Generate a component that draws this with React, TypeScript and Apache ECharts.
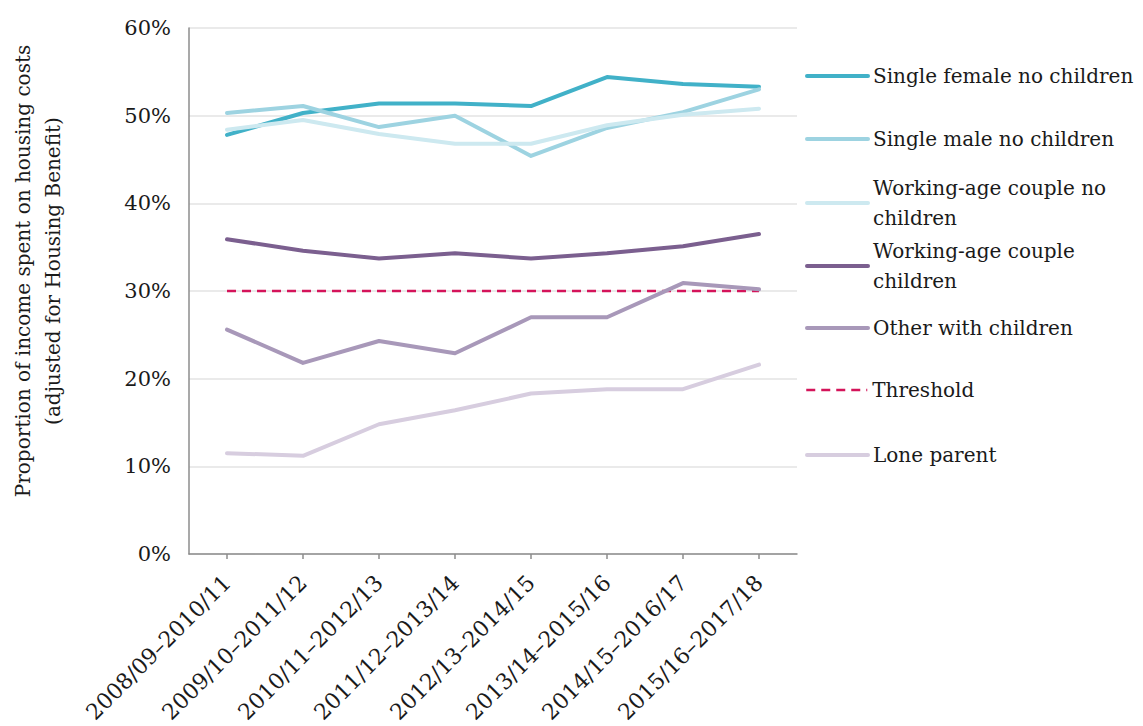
import React, { useEffect, useRef } from 'react';
import * as echarts from 'echarts';

const categories = [
  '2008/09–2010/11',
  '2009/10–2011/12',
  '2010/11–2012/13',
  '2011/12–2013/14',
  '2012/13–2014/15',
  '2013/14–2015/16',
  '2014/15–2016/17',
  '2015/16–2017/18',
];

const singleFemale = [47.8, 50.3, 51.4, 51.4, 51.1, 54.4, 53.6, 53.3];
const singleMale = [50.3, 51.1, 48.7, 50.0, 45.4, 48.6, 50.4, 53.0];
const coupleNoChildren = [48.4, 49.5, 47.9, 46.8, 46.8, 48.9, 50.1, 50.8];
const coupleChildren = [35.9, 34.6, 33.7, 34.3, 33.7, 34.3, 35.1, 36.5];
const otherWithChildren = [25.6, 21.8, 24.3, 22.9, 27.0, 27.0, 30.9, 30.2];
const threshold = [30, 30, 30, 30, 30, 30, 30, 30];
const loneParent = [11.5, 11.2, 14.8, 16.4, 18.3, 18.8, 18.8, 21.6];

const yMin = 0;
const yMax = 60;
const yInterval = 10;

const FONT = 'DejaVu Serif';
const TEXT = '#1a1a1a';

const seriesDefs = [
  { name: 'Single female no children', label: 'Single female no children', data: singleFemale, color: '#41b1c8', dashed: false, legendY: 76, twoLine: false },
  { name: 'Single male no children', label: 'Single male no children', data: singleMale, color: '#9dd3e1', dashed: false, legendY: 139, twoLine: false },
  { name: 'Working-age couple no children', label: 'Working-age couple no\nchildren', data: coupleNoChildren, color: '#cde9f0', dashed: false, legendY: 203, twoLine: true },
  { name: 'Working-age couple children', label: 'Working-age couple\nchildren', data: coupleChildren, color: '#7b5f8f', dashed: false, legendY: 266, twoLine: true },
  { name: 'Other with children', label: 'Other with children', data: otherWithChildren, color: '#a898b9', dashed: false, legendY: 328, twoLine: false },
  { name: 'Threshold', label: 'Threshold', data: threshold, color: '#d4145a', dashed: true, legendY: 390, twoLine: false },
  { name: 'Lone parent', label: 'Lone parent', data: loneParent, color: '#d7cddf', dashed: false, legendY: 455, twoLine: false },
];

const LINE_H = 30;

export default function App() {
  const ref = useRef<HTMLDivElement>(null);
  useEffect(() => {
    if (!ref.current) return;
    const chart = echarts.init(ref.current, undefined, { renderer: 'svg' });
    const option: any = {
      animation: false,
      backgroundColor: '#ffffff',
      grid: { left: 189, top: 28, right: 346, bottom: 172, containLabel: false, outerBoundsMode: 'none' },
      legend: seriesDefs.map((s) => ({
        data: [s.name],
        left: 805,
        top: s.twoLine ? s.legendY - LINE_H * 1.5 : s.legendY - LINE_H / 2,
        orient: 'vertical',
        padding: 0,
        itemWidth: 61,
        itemHeight: 4,
        itemGap: 0,
        selectedMode: false,
        itemStyle: { opacity: 0 },
        lineStyle: s.dashed
          ? { color: s.color, width: 2.5, type: [9, 6] }
          : { color: s.color, width: 4 },
        formatter: () => s.label,
        textStyle: {
          fontFamily: FONT,
          fontSize: 20,
          color: TEXT,
          lineHeight: LINE_H,
          padding: s.twoLine ? [LINE_H, 0, 0, 0] : 0,
        },
      })),
      xAxis: {
        type: 'category',
        data: categories,
        boundaryGap: true,
        axisLine: { show: true, lineStyle: { color: '#8c8c8c', width: 1.5 } },
        axisTick: { show: true, alignWithLabel: true, length: 5, lineStyle: { color: '#8c8c8c', width: 1.5 } },
        axisLabel: { rotate: 45, fontFamily: FONT, fontSize: 22, color: TEXT, margin: 25, interval: 0 },
        splitLine: { show: false },
      },
      yAxis: {
        type: 'value',
        min: yMin,
        max: yMax,
        interval: yInterval,
        name: 'Proportion of income spent on housing costs\n(adjusted for Housing Benefit)',
        nameLocation: 'middle',
        nameGap: 121,
        nameTextStyle: { fontFamily: FONT, fontSize: 20, color: TEXT, lineHeight: 30, padding: [0, 0, 0, 40] },
        axisLine: { show: true, lineStyle: { color: '#8c8c8c', width: 1.5 } },
        axisTick: { show: false },
        axisLabel: { formatter: '{value}%', fontFamily: FONT, fontSize: 21, color: TEXT, margin: 18 },
        splitLine: { show: true, lineStyle: { color: '#e3e3e3', width: 1.5 } },
      },
      series: seriesDefs.map((s) => ({
        name: s.name,
        type: 'line',
        data: s.data,
        symbol: 'none',
        showSymbol: false,
        color: s.color,
        lineStyle: s.dashed
          ? { color: s.color, width: 2.5, type: [9, 6] }
          : { color: s.color, width: 4, cap: 'round', join: 'round' },
        z: s.dashed ? 1 : 2,
      })),
    };
    chart.setOption(option);
    return () => chart.dispose();
  }, []);
  return <div ref={ref} style={{ position: 'absolute', left: 0, top: 0, width: 1143, height: 726 }} />;
}
